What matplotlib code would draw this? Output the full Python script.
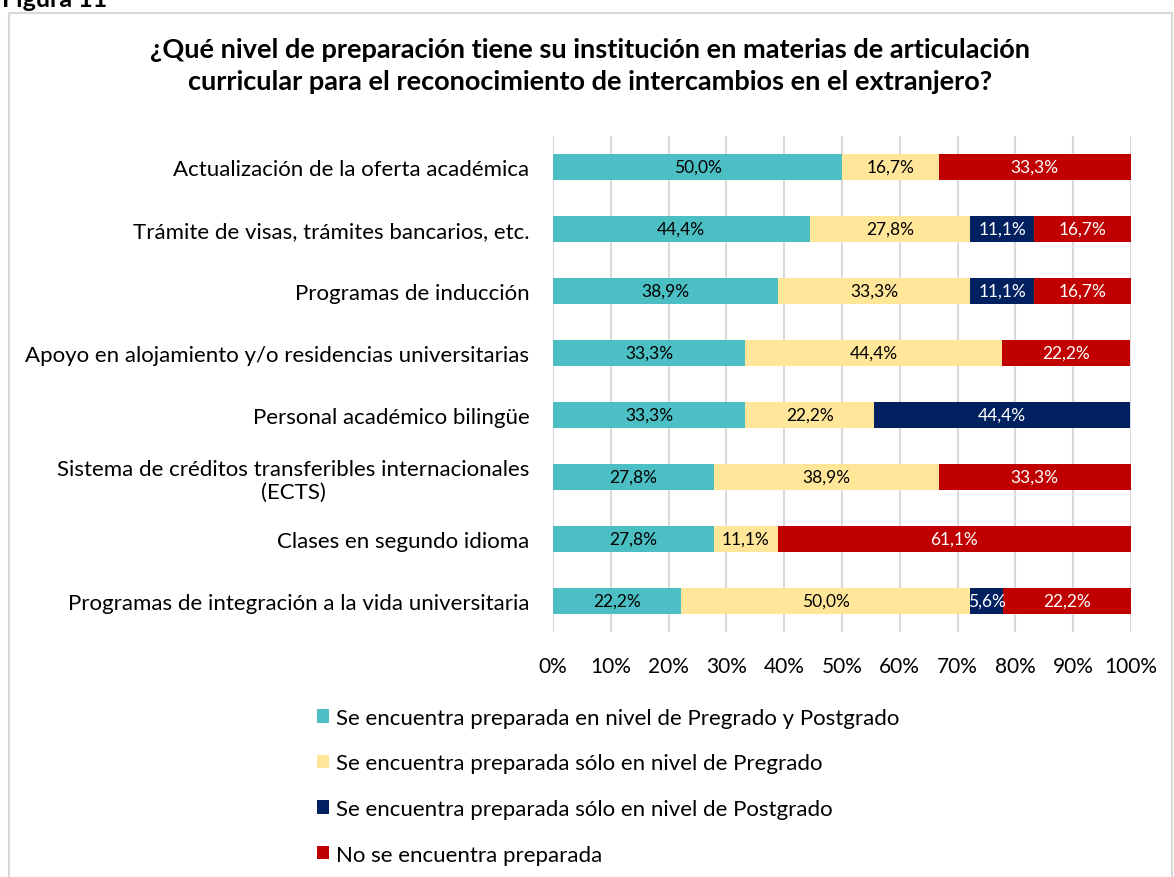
import numpy as np
import matplotlib.pyplot as plt
from matplotlib.patches import Rectangle

plt.rcParams['font.family'] = ['Lato', 'DejaVu Sans']

categorias = ["Actualización de la oferta académica",
              "Trámite de visas, trámites bancarios, etc.",
              "Programas de inducción",
              "Apoyo en alojamiento y/o residencias universitarias",
              "Personal académico bilingüe",
              "Sistema de créditos transferibles internacionales\n(ECTS)",
              "Clases en segundo idioma",
              "Programas de integración a la vida universitaria"]

pre_post = [50.0, 44.4, 38.9, 33.3, 33.3, 27.8, 27.8, 22.2]
solo_pre = [16.7, 27.8, 33.3, 44.4, 22.2, 38.9, 11.1, 50.0]
solo_post = [0.0, 11.1, 11.1, 0.0, 44.4, 0.0, 0.0, 5.6]
no_prep = [33.3, 16.7, 16.7, 22.2, 0.0, 33.3, 61.1, 22.2]

series = [pre_post, solo_pre, solo_post, no_prep]
nombres = ["Se encuentra preparada en nivel de Pregrado y Postgrado",
           "Se encuentra preparada sólo en nivel de Pregrado",
           "Se encuentra preparada sólo en nivel de Postgrado",
           "No se encuentra preparada"]
colores = ["#4BBFC3", "#FFE699", "#002060", "#C00000"]
color_txt = ["black", "black", "white", "white"]

W, H = 1174, 878
fig = plt.figure(figsize=(W / 100, H / 100), dpi=100)
ax = fig.add_axes([553 / W, 1 - 633 / H, 578 / W, 496 / H])

y = np.arange(len(categorias))
left = np.zeros(len(categorias))
handles = []
for vals, nom, col, tc in zip(series, nombres, colores, color_txt):
    vals = np.array(vals)
    b = ax.barh(y, vals, left=left, height=0.41, color=col, label=nom, zorder=2)
    handles.append(b)
    for yi, l, v in zip(y, left, vals):
        if v > 0:
            ax.text(l + v / 2, yi, f"{v:.1f}%".replace('.', ','), ha='center', va='center',
                    color=tc, fontsize=12.5, zorder=3)
    left = left + vals

ax.set_xlim(0, 100)
ax.set_ylim(len(categorias) - 0.5, -0.5)
ax.set_xticks(np.arange(0, 101, 10))
ax.set_xticklabels([f"{t}%" for t in range(0, 101, 10)], fontsize=15)
ax.set_yticks(y)
ax.set_yticklabels(categorias, fontsize=16, ha='right', multialignment='center')
ax.tick_params(length=0, pad=17, axis='x')
ax.tick_params(length=0, pad=17, axis='y')
ax.grid(axis='x', color='#D9D9D9', linewidth=1.5, zorder=0)
for s in ax.spines.values():
    s.set_visible(False)

fig.text(590 / W, 1 - 66 / H,
         "¿Qué nivel de preparación tiene su institución en materias de articulación\n"
         "curricular para el reconocimiento de intercambios en el extranjero?",
         ha='center', va='center', fontsize=19.5, fontweight='bold', linespacing=1.38)

fig.text(2 / W, 1 - 7 / H, "Figura 11", ha='left', va='baseline', fontsize=18, fontweight='bold')

fig.patches.append(Rectangle((9 / W, -0.01), (1172 - 9) / W, 1 - 14 / H + 0.01,
                             transform=fig.transFigure, fill=False, edgecolor='#D9D9D9',
                             linewidth=1.5))

fig.legend(handles=handles, loc='upper left', bbox_to_anchor=(308 / W, 1 - 700 / H),
           frameon=False, fontsize=16, handlelength=0.55, handleheight=0.55,
           handletextpad=0.3, labelspacing=1.15, borderaxespad=0)

fig.savefig("out.png", dpi=100)
